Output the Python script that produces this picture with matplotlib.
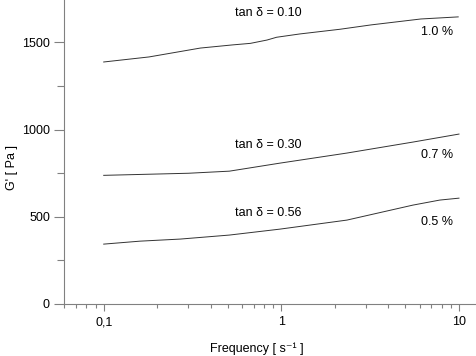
import matplotlib

matplotlib.use("Agg")
import matplotlib.pyplot as plt
from matplotlib.ticker import FixedLocator, FixedFormatter, NullFormatter

plt.rcParams["font.family"] = ["Liberation Sans", "DejaVu Sans"]

# storage modulus curves (frequency in 1/s, G' in Pa)
freq_10 = [0.1, 0.18, 0.35, 0.53, 0.67, 0.83, 0.94, 1.27, 2.14, 3.2, 6.1, 9.9]
g_10 = [1388, 1417, 1468, 1486, 1495, 1514, 1530, 1549, 1576, 1601, 1635, 1647]

freq_07 = [0.1, 0.3, 0.51, 0.98, 2.34, 5.5, 10.0]
g_07 = [737, 749, 761, 807, 865, 928, 974]

freq_05 = [0.1, 0.16, 0.27, 0.51, 0.98, 2.34, 5.5, 7.8, 10.0]
g_05 = [342, 359, 371, 394, 428, 480, 566, 595, 606]

tan_labels = ["tan \u03b4 = 0.10", "tan \u03b4 = 0.30", "tan \u03b4 = 0.56"]
tan_y = [1670, 911, 520]
strain_labels = ["1.0 %", "0.7 %", "0.5 %"]
strain_y = [1560, 853, 468]

x_major = [0.1, 1, 10]
x_major_labels = ["0,1", "1", "10"]
x_minor = [0.06, 0.07, 0.08, 0.09] + [k / 10 for k in range(2, 10)] + list(range(2, 10))
y_major = [0, 500, 1000, 1500]
y_minor = [250, 750, 1250]

AXIS_GREY = "#808080"

fig = plt.figure(figsize=(4.76, 3.56), dpi=100)
ax = fig.add_axes([0.134, 0.147, 0.866, 0.853])

for fx, gy in [(freq_10, g_10), (freq_07, g_07), (freq_05, g_05)]:
    ax.plot(fx, gy, color="#333333", linewidth=0.7)

for lab, yy in zip(tan_labels, tan_y):
    ax.text(0.547, yy, lab, fontsize=9, ha="left", va="center")
for lab, yy in zip(strain_labels, strain_y):
    ax.text(6.1, yy, lab, fontsize=9, ha="left", va="center")

ax.set_xscale("log")
ax.set_xlim(0.0596, 12.47)
ax.set_ylim(0, 1744)

ax.xaxis.set_major_locator(FixedLocator(x_major))
ax.xaxis.set_major_formatter(FixedFormatter(x_major_labels))
ax.xaxis.set_minor_locator(FixedLocator(x_minor))
ax.xaxis.set_minor_formatter(NullFormatter())
ax.yaxis.set_major_locator(FixedLocator(y_major))
ax.yaxis.set_minor_locator(FixedLocator(y_minor))

for side in ("top", "right"):
    ax.spines[side].set_visible(False)
for side in ("left", "bottom"):
    ax.spines[side].set_color(AXIS_GREY)
    ax.spines[side].set_linewidth(0.8)

ax.tick_params(axis="both", which="both", color=AXIS_GREY, direction="out",
               width=0.8, labelsize=9)
ax.tick_params(axis="x", which="major", length=5, pad=4)
ax.tick_params(axis="x", which="minor", length=3)
ax.tick_params(axis="y", which="major", length=7, pad=3)
ax.tick_params(axis="y", which="minor", length=5)

ax.set_xlabel("Frequency [ s\u207b\u00b9 ]", fontsize=9, labelpad=10)
ax.set_ylabel("G' [ Pa ]", fontsize=9, labelpad=3)
ax.xaxis.label.set_x(0.468)
ax.yaxis.label.set_y(0.447)

fig.savefig("out.png", dpi=100)
